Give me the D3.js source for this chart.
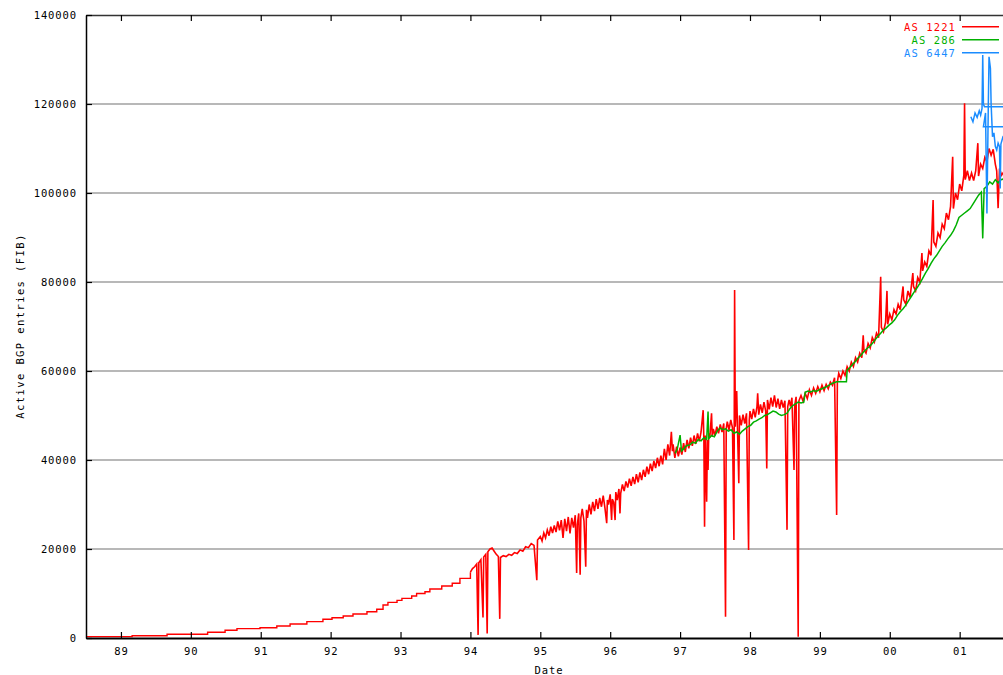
<!DOCTYPE html>
<html><head><meta charset="utf-8">
<script src="https://cdn.jsdelivr.net/npm/d3@7/dist/d3.min.js"></script>
<style>body{margin:0;background:#fff}svg{display:block}text{font-family:"DejaVu Sans Mono",monospace}</style>
</head><body>
<svg id="c" width="1003" height="675"></svg>
<script>
// ---------- data (decimal year, active FIB entries) ----------
const xTickYears = [1989,1990,1991,1992,1993,1994,1995,1996,1997,1998,1999,2000,2001];
const xTickLabels = ["89","90","91","92","93","94","95","96","97","98","99","00","01"];
const yTicks = [0,20000,40000,60000,80000,100000,120000,140000];
const seriesNames = ["AS 1221","AS 286","AS 6447"];
const seriesColors = ["#ff0000","#00b000","#1a8cff"];

// AS 1221 early period: stepwise growth
const as1221Steps = [
[1988.50,300],[1989.16,500],[1989.66,830],[1990.24,1280],[1990.49,1730],[1990.66,2100],
[1990.99,2300],[1991.23,2700],[1991.42,3150],[1991.66,3670],[1991.89,4200],[1992.02,4560],
[1992.18,4950],[1992.32,5400],[1992.52,5900],[1992.66,6450],[1992.75,7400],[1992.82,8000],
[1992.95,8450],[1993.02,8900],[1993.16,9440],[1993.23,10000],[1993.35,10400],[1993.42,11000],
[1993.59,11700],[1993.74,12300],[1993.85,13400],[1994.00,14800]];

// AS 1221 from 1994 on
const as1221 = [
[1994.00,14800],[1994.03,15600],[1994.06,16000],[1994.09,16600],[1994.11,700],[1994.12,16900],
[1994.15,17600],[1994.18,4600],[1994.19,18200],[1994.22,18800],[1994.24,1000],[1994.25,19400],
[1994.28,20000],[1994.31,20200],[1994.34,19500],[1994.37,18800],[1994.40,18300],[1994.42,4300],
[1994.43,18100],[1994.47,18500],[1994.51,18300],[1994.55,18800],[1994.59,18600],[1994.63,19200],
[1994.67,19000],[1994.71,19800],[1994.75,19500],[1994.79,20500],[1994.83,20300],[1994.87,21200],
[1994.91,20800],[1994.95,13000],[1994.96,22000],
[1995.000,22800],[1995.025,21800],[1995.050,23600],[1995.075,22500],[1995.100,24300],[1995.125,23000],
[1995.150,25000],[1995.175,23600],[1995.200,25300],[1995.225,23800],[1995.250,26200],[1995.275,24200],
[1995.300,26500],[1995.325,22500],[1995.350,26800],[1995.375,24000],[1995.400,27200],[1995.425,23500],
[1995.450,27000],[1995.475,24800],[1995.500,27600],[1995.520,14600],[1995.530,25500],[1995.550,28000],
[1995.570,14200],[1995.580,27000],[1995.600,29000],[1995.625,26300],[1995.650,16000],[1995.660,28800],
[1995.675,27000],[1995.700,30000],[1995.725,27800],[1995.750,30600],[1995.775,28500],[1995.800,31200],
[1995.825,29000],[1995.850,31500],[1995.875,29500],[1995.900,32000],[1995.925,29200],[1995.950,25800],
[1995.960,31000],[1995.975,30000],[1996.000,32300],[1996.020,26500],[1996.030,31200],[1996.050,30500],
[1996.070,26500],[1996.080,32800],[1996.100,31000],[1996.125,33500],[1996.140,28000],[1996.150,32500],
[1996.175,34500],[1996.200,33000],[1996.225,35200],[1996.250,33800],[1996.275,35800],[1996.300,34200],
[1996.325,36200],[1996.350,34600],[1996.375,36800],[1996.400,35000],[1996.425,37200],[1996.450,35500],
[1996.475,37800],[1996.500,36200],[1996.525,38500],[1996.550,36800],[1996.575,39200],[1996.600,37500],
[1996.625,39800],[1996.650,38200],[1996.675,40500],[1996.700,38600],[1996.725,41000],[1996.750,39000],
[1996.775,42500],[1996.800,40000],[1996.825,43500],[1996.850,41000],[1996.875,46350],[1996.890,42000],
[1996.900,43500],[1996.925,40500],[1996.950,43000],[1996.975,40800],[1997.000,42800],[1997.025,41200],
[1997.050,43800],[1997.075,41800],[1997.100,44500],[1997.125,42600],[1997.150,45000],[1997.175,43200],
[1997.200,45500],[1997.225,43600],[1997.250,46000],[1997.275,44200],[1997.300,46300],[1997.330,51200],
[1997.340,44800],[1997.350,25000],[1997.360,45500],[1997.380,30600],[1997.390,44500],[1997.400,37750],
[1997.410,46000],[1997.425,45000],[1997.450,50500],[1997.460,45200],[1997.475,47000],[1997.500,45500],
[1997.525,47500],[1997.550,46000],[1997.575,48000],[1997.600,46300],[1997.625,48200],[1997.650,4800],
[1997.660,47000],[1997.675,48600],[1997.700,46800],[1997.725,49000],[1997.750,47200],[1997.770,22000],
[1997.775,49500],[1997.780,78200],[1997.790,47500],[1997.810,55500],[1997.820,48000],[1997.840,34770],
[1997.850,50000],[1997.875,47800],[1997.900,50200],[1997.925,48200],[1997.950,50500],[1997.980,19800],
[1997.990,49000],[1998.000,51000],[1998.025,49200],[1998.050,51500],[1998.075,49600],[1998.100,52000],
[1998.110,55000],[1998.125,50200],[1998.150,52500],[1998.175,50600],[1998.200,53000],[1998.225,51000],
[1998.240,38100],[1998.250,53500],[1998.275,51400],[1998.300,54000],[1998.325,52000],[1998.350,54500],
[1998.375,51800],[1998.400,53800],[1998.425,51500],[1998.450,53500],[1998.475,51800],[1998.500,53300],
[1998.530,24300],[1998.540,52000],[1998.560,53500],[1998.580,52000],[1998.600,54000],[1998.630,37750],
[1998.640,52300],[1998.660,54200],[1998.690,300],[1998.700,53300],
[1998.730,54500],[1998.760,53200],[1998.790,55000],[1998.820,53800],[1998.850,55800],[1998.880,54500],
[1998.910,56200],[1998.940,55000],[1998.970,56500],[1999.000,55300],[1999.030,56800],[1999.060,55600],
[1999.090,57000],[1999.120,56000],[1999.150,57500],[1999.180,56800],[1999.210,58500],[1999.240,27640],
[1999.250,57500],[1999.270,59500],[1999.300,58300],[1999.330,60000],[1999.360,59000],[1999.390,61000],
[1999.420,60000],[1999.450,62000],[1999.480,61000],[1999.510,63000],[1999.540,62000],[1999.570,64000],
[1999.600,63000],[1999.620,68000],[1999.630,64800],[1999.660,64000],[1999.690,66200],[1999.720,65200],
[1999.750,67500],[1999.780,66500],[1999.810,68500],[1999.840,67500],[1999.870,81200],[1999.880,69800],
[1999.910,68800],[1999.940,71000],[1999.960,78000],[1999.970,70500],[2000.000,72800],[2000.030,71500],
[2000.060,73800],[2000.090,72800],[2000.120,75000],[2000.150,73800],[2000.190,79000],[2000.200,76000],
[2000.230,75000],[2000.260,78000],[2000.290,76500],[2000.330,82000],[2000.340,79000],[2000.370,78000],
[2000.400,81000],[2000.430,80000],[2000.460,86500],[2000.470,82500],[2000.500,84500],[2000.530,83500],
[2000.560,87000],[2000.590,86000],[2000.620,98400],[2000.630,89000],[2000.660,88000],[2000.690,91000],
[2000.720,90000],[2000.750,93000],[2000.780,92000],[2000.810,95500],[2000.840,94000],[2000.870,97000],
[2000.900,108150],[2000.910,96500],[2000.940,100000],[2000.970,98500],[2001.000,102000],[2001.030,100500],
[2001.060,104000],[2001.070,120150],[2001.080,103000],[2001.110,105000],[2001.140,102800],[2001.170,104500],
[2001.200,102800],[2001.230,105000],[2001.260,111200],[2001.270,103800],[2001.300,106500],[2001.330,105500],
[2001.360,108000],[2001.390,107000],[2001.420,110000],[2001.450,108500],[2001.480,109800],[2001.510,106500],
[2001.530,105000],[2001.550,96600],[2001.570,105500],[2001.600,104000],[2001.640,105000]];

const as286 = [
[1996.93,41500],[1996.96,42500],[1997.00,45600],[1997.02,42000],[1997.05,42500],[1997.09,43200],
[1997.14,43400],[1997.18,44000],[1997.22,43800],[1997.26,44600],[1997.30,44300],[1997.34,45000],
[1997.38,44600],[1997.40,50900],[1997.41,44800],[1997.45,45500],[1997.49,45200],[1997.53,46500],
[1997.57,47200],[1997.61,46800],[1997.65,47000],[1997.69,46500],[1997.73,46800],[1997.77,46000],
[1997.81,46300],[1997.85,45800],[1997.89,46500],[1997.93,47000],[1997.97,47500],[1998.01,47800],
[1998.05,48500],[1998.09,48800],[1998.13,49200],[1998.17,49500],[1998.21,50000],[1998.25,50200],
[1998.29,50600],[1998.33,51000],[1998.37,50800],[1998.41,50300],[1998.45,50000],[1998.49,50200],
[1998.53,50500],[1998.57,51500],[1998.61,52200],[1998.65,52600],[1998.69,53000],[1998.73,52800],
[1998.77,53000],[1998.79,55200],[1998.83,55500],[1998.87,55300],[1998.91,55600],[1998.95,55400],
[1998.99,55800],[1999.03,56000],[1999.07,56300],[1999.11,56600],[1999.15,57000],[1999.19,57300],
[1999.24,57600],[1999.38,57600],[1999.39,60200],[1999.43,60800],[1999.47,61500],[1999.51,62200],
[1999.55,63000],[1999.59,63600],[1999.63,64400],[1999.67,65000],[1999.71,65500],[1999.75,66200],
[1999.79,67000],[1999.83,67800],[1999.87,68500],[1999.91,69200],[1999.95,69700],[1999.99,70300],
[2000.03,70800],[2000.07,71500],[2000.11,72500],[2000.15,73300],[2000.19,74000],[2000.23,74800],
[2000.27,75800],[2000.31,76800],[2000.35,77800],[2000.39,78700],[2000.43,79700],[2000.47,80800],
[2000.51,82000],[2000.55,83000],[2000.59,84200],[2000.63,85200],[2000.67,86000],[2000.71,87000],
[2000.75,88000],[2000.79,88800],[2000.83,89700],[2000.87,90500],[2000.91,91500],[2000.95,92800],
[2000.99,94500],[2001.03,95000],[2001.07,95500],[2001.11,96000],[2001.15,96500],[2001.19,97500],
[2001.23,98500],[2001.27,99500],[2001.31,100200],[2001.33,89800],[2001.35,101000],[2001.39,101500],
[2001.43,102500],[2001.47,102000],[2001.51,103000],[2001.55,102300],[2001.59,103000],[2001.64,103200]];

const as6447 = [
[2001.16,117150],[2001.19,116000],[2001.22,118000],[2001.25,117000],[2001.28,118500],[2001.30,117500],
[2001.32,119000],[2001.33,131000],[2001.34,120000],[2001.355,119400],[2001.90,119400],[2001.90,114900],
[2001.34,114900],[2001.37,118000],[2001.39,95400],[2001.41,120000],[2001.42,130600],[2001.44,128000],
[2001.45,120000],[2001.47,112650],[2001.49,113500],[2001.51,110500],[2001.53,109650],[2001.55,111200],
[2001.57,110400],[2001.58,101000],[2001.59,111000],[2001.62,112650],[2001.70,114000]];

// ---------- drawing ----------
const svg = d3.select("#c");
const L = 86, R = 1003, T = 15, B = 638;
const x = d3.scaleLinear().domain([1988.5, 2001.62]).range([L, R]);
const y = d3.scaleLinear().domain([0, 140000]).range([B, T]);

svg.append("rect").attr("width",1003).attr("height",675).attr("fill","#fff");
svg.append("clipPath").attr("id","clip").append("rect")
  .attr("x",L).attr("y",T).attr("width",R-L).attr("height",B-T);

// grid
svg.append("g").selectAll("line").data(yTicks.filter(v=>v>0 && v<140000)).join("line")
  .attr("x1",L).attr("x2",R).attr("y1",d=>y(d)).attr("y2",d=>y(d))
  .attr("stroke","#a0a0a0").attr("stroke-width",1.4);

const plot = svg.append("g").attr("clip-path","url(#clip)");
const line = d3.line().x(d=>x(d[0])).y(d=>y(d[1]));
plot.append("path").datum(as1221Steps).attr("d", d3.line().curve(d3.curveStepAfter).x(d=>x(d[0])).y(d=>y(d[1])))
  .attr("fill","none").attr("stroke",seriesColors[0]).attr("stroke-width",1.4);
plot.append("path").datum(as1221).attr("d",line).attr("fill","none")
  .attr("stroke",seriesColors[0]).attr("stroke-width",1.6);
plot.append("path").datum(as286).attr("d",line).attr("fill","none")
  .attr("stroke",seriesColors[1]).attr("stroke-width",1.5);
plot.append("path").datum(as6447).attr("d",line).attr("fill","none")
  .attr("stroke",seriesColors[2]).attr("stroke-width",1.5);

// axes
const fs = "10.5px";
const xb = svg.append("g").attr("transform",`translate(0,${B})`)
  .call(d3.axisBottom(x).tickValues(xTickYears).tickFormat((d,i)=>xTickLabels[i]).tickSizeInner(-6).tickSizeOuter(0).tickPadding(9.5));
const xt = svg.append("g").attr("transform",`translate(0,${T})`)
  .call(d3.axisTop(x).tickValues(xTickYears).tickFormat("").tickSizeInner(-6).tickSizeOuter(0));
const yl = svg.append("g").attr("transform",`translate(${L},0)`)
  .call(d3.axisLeft(y).tickValues(yTicks).tickFormat(d3.format("d")).tickSizeInner(-6).tickSizeOuter(0).tickPadding(9));
[xb,xt,yl].forEach(g=>{
  g.selectAll("text").attr("font-family","DejaVu Sans Mono").attr("font-size",fs)
    .attr("letter-spacing","0.9px").attr("fill","#000");
  g.selectAll("line").attr("stroke","#000").attr("stroke-width",1.2);
});
xb.select(".domain").attr("stroke","#000").attr("stroke-width",2);
xt.select(".domain").attr("stroke","#333").attr("stroke-width",1.4);
yl.select(".domain").attr("stroke","#000").attr("stroke-width",1.5);

// axis titles
svg.append("text").attr("x",549).attr("y",674).attr("text-anchor","middle")
  .attr("font-size",fs).attr("letter-spacing","0.9px").text("Date");
svg.append("text").attr("transform","translate(24,326) rotate(-90)").attr("text-anchor","middle")
  .attr("font-size",fs).attr("letter-spacing","1.4px").text("Active BGP entries (FIB)");

// legend
const lg = svg.append("g");
seriesNames.forEach((n,i)=>{
  const yy = 26.7 + i*13;
  lg.append("text").attr("x",956).attr("y",yy+3.8).attr("text-anchor","end")
    .attr("font-size",fs).attr("letter-spacing","1.1px").attr("fill",seriesColors[i]).text(n);
  lg.append("line").attr("x1",962).attr("x2",999).attr("y1",yy).attr("y2",yy)
    .attr("stroke",seriesColors[i]).attr("stroke-width",1.4);
});
</script>
</body></html>
